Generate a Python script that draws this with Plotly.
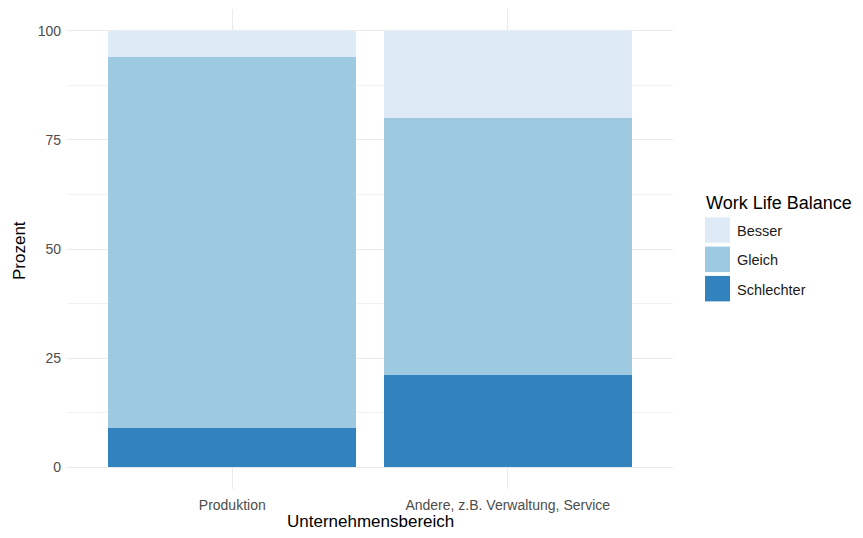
import plotly.graph_objects as go

# ---------------- data ----------------
categories = ["Produktion", "Andere, z.B. Verwaltung, Service"]
levels = ["Schlechter", "Gleich", "Besser"]          # stacking order, bottom -> top
schlechter = [9.0, 21.1]
gleich = [85.0, 58.9]
besser = [6.0, 20.0]
values = {"Schlechter": schlechter, "Gleich": gleich, "Besser": besser}
colors = {"Besser": "#deebf7", "Gleich": "#9ecae1", "Schlechter": "#3182bd"}
legend_order = ["Besser", "Gleich", "Schlechter"]
y_ticks = [0, 25, 50, 75, 100]

# ---------------- layout geometry (window pixel coords) ----------------
W, H = 863, 538
OFF = 8                      # page body margin
PL, PR, PT, PB = 67, 673, 9, 489   # plot area in window pixels
PW = PR - PL
PH = PB - PT
FW, FH = W - OFF, H - OFF
ML, MT = PL - OFF, PT - OFF
MR = FW - (PR - OFF)
MB = FH - (PB - OFF)


def px_x(x):
    return (x - PL) / PW


def px_y(y):
    return (PB - y) / PH


FONT = "Liberation Sans, Arial, sans-serif"
GRID = "#ebebeb"

fig = go.Figure()
for lev in levels:
    fig.add_trace(go.Bar(
        x=categories, y=values[lev], name=lev,
        marker=dict(color=colors[lev], line=dict(width=0)),
        width=0.9, showlegend=False, hoverinfo="x+y+name",
    ))

fig.update_layout(
    template="none",
    width=FW, height=FH,
    margin=dict(l=ML, r=MR, t=MT, b=MB, pad=0),
    paper_bgcolor="white", plot_bgcolor="white",
    barmode="stack",
    font=dict(family=FONT, color="#000000"),
    showlegend=False,
)

fig.update_xaxes(
    type="category", range=[-0.6, 1.6],
    showgrid=True, gridcolor=GRID, gridwidth=1,
    zeroline=False, showline=False, ticks="",
    tickfont=dict(size=14, color="#4d4d4d", family=FONT),
    ticklabelstandoff=6,
)
fig.update_yaxes(
    range=[-5, 105], tickvals=y_ticks, ticktext=[str(v) for v in y_ticks],
    showgrid=True, gridcolor=GRID, gridwidth=1,
    minor=dict(dtick=12.5, tick0=0, showgrid=True, gridcolor="#f2f2f2", gridwidth=0.7),
    zeroline=False, showline=False, ticks="",
    tickfont=dict(size=14, color="#4d4d4d", family=FONT),
    ticklabelstandoff=5,
)

annotations = [
    dict(text="Unternehmensbereich", xref="paper", yref="paper",
         x=px_x(370), y=px_y(521.5), xanchor="center", yanchor="middle",
         showarrow=False, font=dict(size=17, color="#000000", family=FONT)),
    dict(text="Prozent", xref="paper", yref="paper", textangle=-90,
         x=px_x(19), y=px_y(251), xanchor="center", yanchor="middle",
         showarrow=False, font=dict(size=17, color="#000000", family=FONT)),
    dict(text="Work Life Balance", xref="paper", yref="paper",
         x=px_x(704), y=px_y(203), xanchor="left", yanchor="middle",
         showarrow=False, font=dict(size=18, color="#000000", family=FONT)),
]

shapes = []
key_top = 217.3
step = 29.3
for i, lev in enumerate(legend_order):
    y0 = key_top + i * step
    y1 = y0 + 25.5
    shapes.append(dict(type="rect", xref="paper", yref="paper",
                       x0=px_x(705), x1=px_x(730), y0=px_y(y1), y1=px_y(y0),
                       fillcolor=colors[lev], line=dict(width=0), layer="above"))
    annotations.append(dict(text=lev, xref="paper", yref="paper",
                            x=px_x(735), y=px_y((y0 + y1) / 2 + 1), xanchor="left", yanchor="middle",
                            showarrow=False, font=dict(size=14.5, color="#1a1a1a", family=FONT)))

fig.update_layout(annotations=annotations, shapes=shapes)

fig.write_html("out.html")
